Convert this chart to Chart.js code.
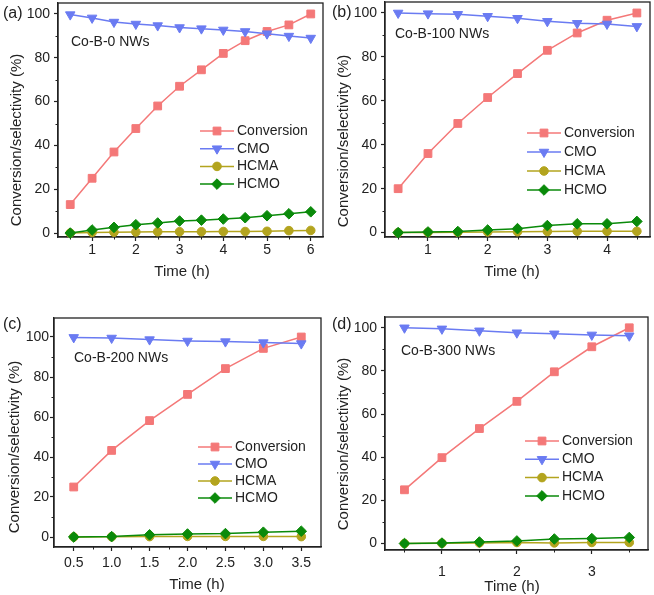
<!DOCTYPE html>
<html>
<head>
<meta charset="utf-8">
<script src="https://cdn.jsdelivr.net/npm/chart.js@4.4.0/dist/chart.umd.min.js"></script>
<style>
html, body { margin: 0; padding: 0; background: #fff; }
body { width: 654px; height: 595px; position: relative; overflow: hidden; }
canvas { position: absolute; }
</style>
</head>
<body>
<canvas id="ca"></canvas>
<canvas id="cb"></canvas>
<canvas id="cc"></canvas>
<canvas id="cd"></canvas>
<script>
// Data
const seriesNames = ['Conversion', 'CMO', 'HCMA', 'HCMO'];
const sampleNames = ['Co-B-0 NWs', 'Co-B-100 NWs', 'Co-B-200 NWs', 'Co-B-300 NWs'];
const panelLetters = ['(a)', '(b)', '(c)', '(d)'];
const xTitle = 'Time (h)';
const yTitle = 'Conversion/selectivity (%)';
const yTicks = [0, 20, 40, 60, 80, 100];
const yMinorTicks = [10, 30, 50, 70, 90];

const timesA = [0.5, 1, 1.5, 2, 2.5, 3, 3.5, 4, 4.5, 5, 5.5, 6];
const convA = [13, 25, 37, 47.7, 58, 67, 74.5, 82, 87.8, 92, 95, 100];
const cmoA = [99.7, 98.2, 96.3, 95.4, 94.7, 93.8, 93.3, 92.7, 92, 91, 89.9, 89];
const hcmaA = [0, 0.3, 0.4, 0.5, 0.6, 0.6, 0.6, 0.7, 0.7, 0.8, 1.1, 1.2];
const hcmoA = [0, 1.4, 2.6, 3.8, 4.6, 5.5, 5.9, 6.4, 7, 7.9, 8.8, 9.7];
const xTicksA = [1, 2, 3, 4, 5, 6];
const xMinorA = [0.5, 1.5, 2.5, 3.5, 4.5, 5.5];

const timesB = [0.5, 1, 1.5, 2, 2.5, 3, 3.5, 4, 4.5];
const convB = [20, 36, 49.7, 61.5, 72.4, 83, 90.9, 96.7, 100];
const cmoB = [100, 99.7, 99.4, 98.5, 97.6, 96.2, 95.3, 95, 93.9];
const hcmaB = [0, 0.1, 0.2, 0.3, 0.4, 0.5, 0.6, 0.6, 0.6];
const hcmoB = [0, 0.3, 0.5, 1.2, 1.8, 3.2, 4, 4, 5.1];
const xTicksB = [1, 2, 3, 4];
const xMinorB = [0.5, 1.5, 2.5, 3.5, 4.5];

const timesC = [0.5, 1, 1.5, 2, 2.5, 3, 3.5];
const convC = [25, 43.3, 58.2, 71.3, 84.2, 94.3, 100];
const cmoC = [99.8, 99.5, 98.7, 98, 97.7, 97.2, 96.7];
const hcmaC = [0, 0.1, 0.2, 0.3, 0.3, 0.3, 0.2];
const hcmoC = [0, 0.2, 1.1, 1.5, 1.7, 2.4, 2.9];
const xTicksC = [0.5, 1, 1.5, 2, 2.5, 3, 3.5];
const xMinorC = [0.75, 1.25, 1.75, 2.25, 2.75, 3.25];

const timesD = [0.5, 1, 1.5, 2, 2.5, 3, 3.5];
const convD = [24.9, 39.8, 53.3, 65.9, 79.6, 91.2, 100];
const cmoD = [100, 99.5, 98.6, 97.7, 97.2, 96.7, 96.3];
const hcmaD = [0, 0.1, 0.3, 0.5, 0.3, 0.5, 0.5];
const hcmoD = [0, 0.2, 0.7, 1.2, 2.1, 2.3, 2.8];
const xTicksD = [1, 2, 3];
const xMinorD = [0.5, 1.5, 2.5, 3.5];

// Marker / line styles per series
const seriesStyle = [
    { color: '#F47878', point: 'rect', radius: 5.5, rotation: 0 },
    { color: '#6A7BF2', point: 'triangle', radius: 5.5, rotation: 180 },
    { color: '#B3A41E', point: 'circle', radius: 4.3, rotation: 0 },
    { color: '#0A8A0A', point: 'rectRot', radius: 5.3, rotation: 0 }
];

const FONT = '"Liberation Sans", Arial, sans-serif';
const INK = '#222';

// Panel layout (page pixels): canvas box, wanted plot frame, text anchors
const panels = [
    { id: 'ca', times: timesA, series: [convA, cmoA, hcmaA, hcmoA], xTicks: xTicksA, xMinor: xMinorA,
      xMin: 0.22, xMax: 6.28, yMin: -1.8, yMax: 105, decimals: 0,
      box: { x: 0, y: 0, w: 327, h: 290 }, area: { l: 58, t: 3, r: 323, b: 237 },
      xTickPad: 1, yTickPad: 4,
      letter: { x: 3, y: 14 }, name: { x: 71, y: 42 }, legend: { dy: 128, gap: 17.7 },
      xT: { x: 182, y: 272 }, yT: { x: 17, y: 140 } },
    { id: 'cb', times: timesB, series: [convB, cmoB, hcmaB, hcmoB], xTicks: xTicksB, xMinor: xMinorB,
      xMin: 0.28, xMax: 4.72, yMin: -2, yMax: 105, decimals: 0,
      box: { x: 327, y: 0, w: 327, h: 290 }, area: { l: 385, t: 2, r: 650, b: 237 },
      xTickPad: 1, yTickPad: 4,
      letter: { x: 332, y: 13 }, name: { x: 395, y: 34 }, legend: { dy: 131, gap: 19 },
      xT: { x: 512, y: 272 }, yT: { x: 344, y: 141 } },
    { id: 'cc', times: timesC, series: [convC, cmoC, hcmaC, hcmoC], xTicks: xTicksC, xMinor: xMinorC,
      xMin: 0.24, xMax: 3.76, yMin: -5, yMax: 109.5, decimals: 1,
      box: { x: 0, y: 297, w: 327, h: 298 }, area: { l: 54, t: 318, r: 321, b: 547 },
      xTickPad: 4, yTickPad: 1,
      letter: { x: 3, y: 325 }, name: { x: 74, y: 358 }, legend: { dy: 129, gap: 17 },
      xT: { x: 197, y: 585 }, yT: { x: 15, y: 447 } },
    { id: 'cd', times: timesD, series: [convD, cmoD, hcmaD, hcmoD], xTicks: xTicksD, xMinor: xMinorD,
      xMin: 0.24, xMax: 3.75, yMin: -3, yMax: 105, decimals: 0,
      box: { x: 327, y: 297, w: 327, h: 298 }, area: { l: 385, t: 317, r: 648, b: 550 },
      xTickPad: 10, yTickPad: 4,
      letter: { x: 332, y: 325 }, name: { x: 401, y: 351 }, legend: { dy: 124, gap: 18.3 },
      xT: { x: 512, y: 587 }, yT: { x: 344, y: 444 } }
];

function drawMarker(ctx, st, x, y) {
    const r = st.radius;
    ctx.beginPath();
    if (st.point === 'rect') {
        const s = r * Math.SQRT1_2;
        ctx.rect(x - s, y - s, 2 * s, 2 * s);
    } else if (st.point === 'triangle') {
        for (let k = 0; k < 3; k++) {
            const a = Math.PI + k * 2 * Math.PI / 3;
            const px = x + Math.sin(a) * r, py = y - Math.cos(a) * r;
            if (k === 0) ctx.moveTo(px, py); else ctx.lineTo(px, py);
        }
        ctx.closePath();
    } else if (st.point === 'circle') {
        ctx.arc(x, y, r, 0, Math.PI * 2);
    } else {
        ctx.moveTo(x, y - r); ctx.lineTo(x + r, y); ctx.lineTo(x, y + r); ctx.lineTo(x - r, y);
        ctx.closePath();
    }
    ctx.fillStyle = st.color;
    ctx.strokeStyle = st.color;
    ctx.lineWidth = 1;
    ctx.fill();
    ctx.stroke();
}

// Frame box, minor ticks, titles, panel letter, sample name and legend
const decorPlugin = {
    id: 'decor',
    beforeDatasetsDraw(chart, args, opts) {
        const p = opts.panel;
        const { ctx, chartArea: a, scales } = chart;
        ctx.save();
        ctx.strokeStyle = INK;
        ctx.lineWidth = 1.3;
        ctx.strokeRect(a.left, a.top, a.right - a.left, a.bottom - a.top);
        ctx.lineWidth = 1;
        ctx.beginPath();
        p.xMinor.forEach(v => {
            const x = Math.round(scales.x.getPixelForValue(v)) + 0.5;
            ctx.moveTo(x, a.bottom); ctx.lineTo(x, a.bottom + 2.5);
        });
        yMinorTicks.forEach(v => {
            const y = Math.round(scales.y.getPixelForValue(v)) + 0.5;
            ctx.moveTo(a.left, y); ctx.lineTo(a.left - 2.5, y);
        });
        ctx.stroke();
        ctx.restore();
    },
    afterDraw(chart, args, opts) {
        const p = opts.panel;
        const { ctx, chartArea: a } = chart;
        const ox = p.box.x, oy = p.box.y;
        ctx.save();
        ctx.fillStyle = INK;
        ctx.textBaseline = 'middle';

        // axis titles
        ctx.textAlign = 'center';
        ctx.font = '15px ' + FONT;
        ctx.fillText(xTitle, p.xT.x - ox, p.xT.y - oy);
        ctx.save();
        ctx.translate(p.yT.x - ox, p.yT.y - oy);
        ctx.rotate(-Math.PI / 2);
        ctx.fillText(yTitle, 0, 0);
        ctx.restore();

        ctx.textAlign = 'left';
        ctx.font = '16px ' + FONT;
        ctx.fillText(panelLetters[opts.index], p.letter.x - ox, p.letter.y - oy);
        ctx.font = '14px ' + FONT;
        ctx.fillText(sampleNames[opts.index], p.name.x - ox, p.name.y - oy);

        const lx = a.right - 123;
        seriesNames.forEach((name, i) => {
            const st = seriesStyle[i];
            const y = a.top + p.legend.dy + i * p.legend.gap;
            ctx.strokeStyle = st.color;
            ctx.lineWidth = 1.5;
            ctx.beginPath();
            ctx.moveTo(lx, y); ctx.lineTo(lx + 34, y);
            ctx.stroke();
            drawMarker(ctx, st, lx + 17, y);
            ctx.fillStyle = INK;
            ctx.font = '14px ' + FONT;
            ctx.fillText(name, lx + 37, y);
        });
        ctx.restore();
    }
};

panels.forEach((p, index) => {
    const cv = document.getElementById(p.id);
    cv.width = p.box.w;
    cv.height = p.box.h;
    cv.style.left = p.box.x + 'px';
    cv.style.top = p.box.y + 'px';

    const yAxisW = p.area.l - p.box.x;
    const xAxisH = p.box.y + p.box.h - p.area.b;

    const datasets = seriesNames.map((name, i) => {
        const st = seriesStyle[i];
        return {
            label: name,
            data: p.times.map((t, k) => ({ x: t, y: p.series[i][k] })),
            borderColor: st.color,
            backgroundColor: st.color,
            borderWidth: 1.5,
            pointStyle: st.point,
            pointRadius: st.radius,
            pointRotation: st.rotation,
            pointBorderWidth: 1,
            pointBackgroundColor: st.color,
            pointBorderColor: st.color,
            tension: 0,
            clip: false,
            order: 3 - i
        };
    });

    new Chart(cv, {
        type: 'line',
        data: { datasets },
        options: {
            responsive: false,
            animation: false,
            devicePixelRatio: 1,
            layout: {
                autoPadding: false,
                padding: {
                    left: 0,
                    top: p.area.t - p.box.y,
                    right: p.box.x + p.box.w - p.area.r,
                    bottom: 0
                }
            },
            plugins: {
                legend: { display: false },
                tooltip: { enabled: false },
                decor: { panel: p, index: index }
            },
            scales: {
                x: {
                    type: 'linear',
                    min: p.xMin,
                    max: p.xMax,
                    afterBuildTicks: s => { s.ticks = p.xTicks.map(v => ({ value: v })); },
                    afterFit: s => { s.height = xAxisH; s.paddingLeft = 0; s.paddingRight = 0; },
                    grid: { drawOnChartArea: false, drawTicks: true, tickLength: 4, tickColor: INK, tickWidth: 1.2 },
                    border: { display: true, color: INK, width: 1.3 },
                    ticks: {
                        color: INK,
                        font: { family: FONT, size: 14 },
                        padding: p.xTickPad,
                        maxRotation: 0,
                        callback: v => Number(v).toFixed(p.decimals)
                    }
                },
                y: {
                    type: 'linear',
                    min: p.yMin,
                    max: p.yMax,
                    afterBuildTicks: s => { s.ticks = yTicks.map(v => ({ value: v })); },
                    afterFit: s => { s.width = yAxisW; s.paddingTop = 0; s.paddingBottom = 0; },
                    grid: { drawOnChartArea: false, drawTicks: true, tickLength: 4, tickColor: INK, tickWidth: 1.2 },
                    border: { display: true, color: INK, width: 1.3 },
                    ticks: {
                        color: INK,
                        font: { family: FONT, size: 14 },
                        padding: p.yTickPad
                    }
                }
            }
        },
        plugins: [decorPlugin]
    });
});
</script>
</body>
</html>
